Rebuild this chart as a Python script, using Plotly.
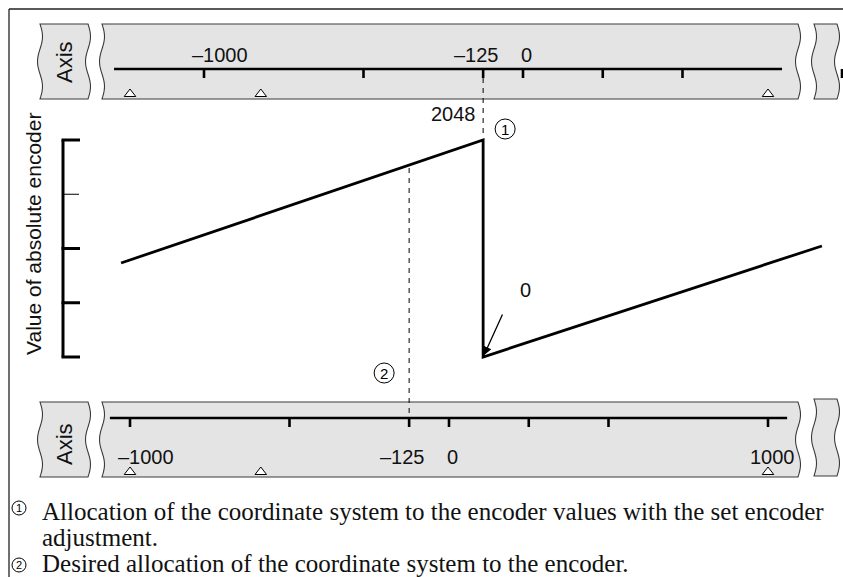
import numpy as np
import plotly.graph_objects as go

W, H = 843, 577

# ---------------- data ----------------
top_axis_ticks = [-1000, -500, -125, 0, 250, 500, 1000]
top_axis_labels = {-1000: "\u20131000", -125: "\u2013125", 0: "0"}
bottom_axis_ticks = [-1000, -500, -125, 0, 250, 500, 1000]
bottom_axis_labels = {-1000: "\u20131000", -125: "\u2013125", 0: "0", 1000: "1000"}
reference_marks = [-1000, -590, 1000]          # physical reference marks (bottom-axis units)
encoder_pos = [-1260, -125, -125, 937]         # position (top-axis units)
encoder_val = [887, 2048, 0, 1048]             # value of absolute encoder
encoder_ticks = [0, 512, 1024, 1536, 2048]
encoder_max = 2048
adjust_top = -125      # set encoder adjustment (top axis)
adjust_bottom = -125   # desired allocation (bottom axis)
top_axis_span = [-1282, 812]
bottom_axis_span = [-1063, 1060]
footnotes = [
    ("1", "Allocation of the coordinate system to the encoder values with the set encoder"),
    (None, "adjustment."),
    ("2", "Desired allocation of the coordinate system to the encoder."),
]

# ---------------- scales (pixel layout) ----------------
PPU = 0.319           # pixels per axis unit
TOP_ZERO = 523.0      # pixel x of top-axis 0
BOT_ZERO = 449.0      # pixel x of bottom-axis 0
ENC0_PX, ENCMAX_PX = 357.0, 140.0
epp = encoder_max / (ENC0_PX - ENCMAX_PX)

def ptop(v):
    return TOP_ZERO + PPU * v

def pbot(v):
    return BOT_ZERO + PPU * v

def paper(x, y):
    return x / W, 1 - y / H

SANS = "Liberation Sans, Arial, Helvetica, sans-serif"
SERIF = "Liberation Serif, Times New Roman, serif"

fig = go.Figure()

common = dict(hoverinfo="skip", showlegend=False)

# sawtooth
fig.add_trace(go.Scatter(x=encoder_pos, y=encoder_val, mode="lines",
                         line=dict(color="black", width=2.8), xaxis="x", yaxis="y", **common))

# encoder bracket (x in pixels, y in encoder units)
BR_X = 63
fig.add_trace(go.Scatter(x=[BR_X, BR_X], y=[encoder_ticks[0], encoder_ticks[-1]], mode="lines",
                         line=dict(color="black", width=3), xaxis="x3", yaxis="y", **common))
thick_x, thick_y, thin_x, thin_y = [], [], [], []
for e in encoder_ticks:
    if e == 1536:
        thin_x += [BR_X, 79, None]; thin_y += [e, e, None]
    else:
        thick_x += [BR_X - 1.5, 80, None]; thick_y += [e, e, None]
fig.add_trace(go.Scatter(x=thick_x, y=thick_y, mode="lines", line=dict(color="black", width=3),
                         xaxis="x3", yaxis="y", **common))
fig.add_trace(go.Scatter(x=thin_x, y=thin_y, mode="lines", line=dict(color="black", width=1),
                         xaxis="x3", yaxis="y", **common))

# ---------------- bands (shapes, below) ----------------
shapes = []

def wave(x0, yt, yb, n=30, amp=2.5):
    t = np.linspace(0, 1, n)
    return x0 + amp * np.sin(3 * np.pi * t), yt + (yb - yt) * t

def band_path(xl, xr, yt, yb):
    rx, ry = wave(xr, yt, yb)
    lx, ly = wave(xl, yt, yb)
    pts = [(xl, yt)] + list(zip(rx, ry)) + list(zip(lx[::-1], ly[::-1]))
    s = ""
    for i, (x, y) in enumerate(pts):
        px, py = paper(x, y)
        s += ("M" if i == 0 else "L") + f"{px:.5f},{py:.5f} "
    return s + "Z"

for (xl, xr, yt, yb) in [(40, 88, 24, 99), (102, 798, 24, 99), (814, 837, 24, 99),
                         (40, 88, 402, 477), (102, 798, 402, 477), (814, 837, 399, 476)]:
    shapes.append(dict(type="path", path=band_path(xl, xr, yt, yb), xref="paper", yref="paper",
                       fillcolor="#e4e4e4", line=dict(color="#3a3a3a", width=1.1), layer="below"))

# frame
for (x0, y0, x1, y1) in [(9, 9, W + 2, 9), (9, 9, 9, H + 2)]:
    a, b = paper(x0, y0); c, d = paper(x1, y1)
    shapes.append(dict(type="line", x0=a, y0=b, x1=c, y1=d, xref="paper", yref="paper",
                       line=dict(color="#222", width=1.3), layer="below"))

# ---------------- axes in bands ----------------
TOP_Y, BOT_Y, TICK_LEN = 69, 418, 9
fig.add_trace(go.Scatter(x=top_axis_span, y=[TOP_Y, TOP_Y], mode="lines",
                         line=dict(color="black", width=2.6), xaxis="x", yaxis="y2", **common))
tx, ty = [], []
for v in top_axis_ticks:
    tx += [v, v, None]; ty += [TOP_Y, TOP_Y + TICK_LEN, None]
fig.add_trace(go.Scatter(x=tx, y=ty, mode="lines", line=dict(color="black", width=2.6),
                         xaxis="x", yaxis="y2", **common))

fig.add_trace(go.Scatter(x=bottom_axis_span, y=[BOT_Y, BOT_Y], mode="lines",
                         line=dict(color="black", width=2.6), xaxis="x2", yaxis="y2", **common))
bx_, by_ = [], []
for v in bottom_axis_ticks:
    bx_ += [v, v, None]; by_ += [BOT_Y, BOT_Y + TICK_LEN, None]
fig.add_trace(go.Scatter(x=bx_, y=by_, mode="lines", line=dict(color="black", width=2.6),
                         xaxis="x2", yaxis="y2", **common))

# reference marks (triangles)
for yy in (94, 472):
    fig.add_trace(go.Scatter(x=reference_marks, y=[yy] * len(reference_marks), mode="markers",
                             marker=dict(symbol="triangle-up", size=10, color="white",
                                         line=dict(color="black", width=1)),
                             xaxis="x2", yaxis="y2", **common))

# dashed lines
fig.add_trace(go.Scatter(x=[adjust_top, adjust_top], y=[TOP_Y + TICK_LEN, 137], mode="lines",
                         line=dict(color="black", width=1, dash="5px,5px"),
                         xaxis="x", yaxis="y2", **common))
fig.add_trace(go.Scatter(x=[adjust_bottom, adjust_bottom], y=[168, BOT_Y], mode="lines",
                         line=dict(color="black", width=1, dash="5px,5px"),
                         xaxis="x2", yaxis="y2", **common))

# ---------------- annotations ----------------
ann = []
label_shift = {-1000: 16, -125: -7, 0: 3, 1000: 4}
for v, t in top_axis_labels.items():
    ann.append(dict(x=v, y=55, xref="x", yref="y2", text=t, showarrow=False,
                    xshift=label_shift[v], font=dict(family=SANS, size=20, color="#111")))
for v, t in bottom_axis_labels.items():
    ann.append(dict(x=v, y=457, xref="x2", yref="y2", text=t, showarrow=False,
                    xshift=label_shift[v], font=dict(family=SANS, size=20, color="#111")))
for yy in (62, 444):
    ann.append(dict(x=64, y=yy, xref="x3", yref="y2", text="Axis", textangle=-90, showarrow=False,
                    font=dict(family=SANS, size=22, color="#111")))
ann.append(dict(x=33, y=234, xref="x3", yref="y2", text="Value of absolute encoder", textangle=-90,
                showarrow=False, font=dict(family=SANS, size=21, color="#111")))
ann.append(dict(x=adjust_top, y=encoder_max, xref="x", yref="y", text=str(encoder_max),
                showarrow=False, xshift=-30, yshift=26, font=dict(family=SANS, size=20, color="#111")))
ann.append(dict(x=adjust_top, y=0, xref="x", yref="y", text="0", showarrow=False,
                xshift=42, yshift=67, font=dict(family=SANS, size=20, color="#111")))
ann.append(dict(x=adjust_top, y=0, xref="x", yref="y", text="", showarrow=True,
                ax=20, ay=-44, arrowhead=2, arrowsize=1.3, arrowwidth=1.3, arrowcolor="black",
                standoff=2))

def circled(cx, cy, r, digit, fsize):
    a, b = paper(cx - r, cy + r); c, d = paper(cx + r, cy - r)
    shapes.append(dict(type="circle", x0=a, y0=b, x1=c, y1=d, xref="paper", yref="paper",
                       line=dict(color="black", width=1), fillcolor="white", layer="above"))
    ann.append(dict(x=cx, y=cy, xref="x3", yref="y2", text=digit, showarrow=False,
                    font=dict(family=SANS, size=fsize, color="black")))

circled(ptop(adjust_top) + 22, 129, 10, "1", 15)
circled(pbot(adjust_bottom) - 25, 373, 10, "2", 15)

foot_y = [511, 537, 563]
for (num, txt), yy in zip(footnotes, foot_y):
    if num is not None:
        circled(19, yy - 3 if num == "1" else yy + 2, 7, num, 11)
    ann.append(dict(x=40, y=yy, xref="x3", yref="y2", text=txt, showarrow=False, xanchor="left",
                    font=dict(family=SERIF, size=25, color="#111")))

# ---------------- layout ----------------
hid = dict(visible=False, fixedrange=True, showgrid=False, zeroline=False)
fig.update_layout(
    width=W, height=H, margin=dict(l=0, r=0, t=0, b=0),
    paper_bgcolor="white", plot_bgcolor="rgba(0,0,0,0)",
    xaxis=dict(range=[(0 - TOP_ZERO) / PPU, (W - TOP_ZERO) / PPU], domain=[0, 1], **hid),
    xaxis2=dict(range=[(0 - BOT_ZERO) / PPU, (W - BOT_ZERO) / PPU], overlaying="x", anchor="y", **hid),
    xaxis3=dict(range=[0, W], overlaying="x", anchor="y", **hid),
    yaxis=dict(range=[(ENC0_PX - H) * epp, ENC0_PX * epp], domain=[0, 1], **hid),
    yaxis2=dict(range=[H, 0], overlaying="y", anchor="x", **hid),
    shapes=shapes, annotations=ann, showlegend=False,
)

fig.write_html("out.html", config={"displayModeBar": False},
               post_script="document.body.style.margin='0';document.body.style.overflow='hidden';")
